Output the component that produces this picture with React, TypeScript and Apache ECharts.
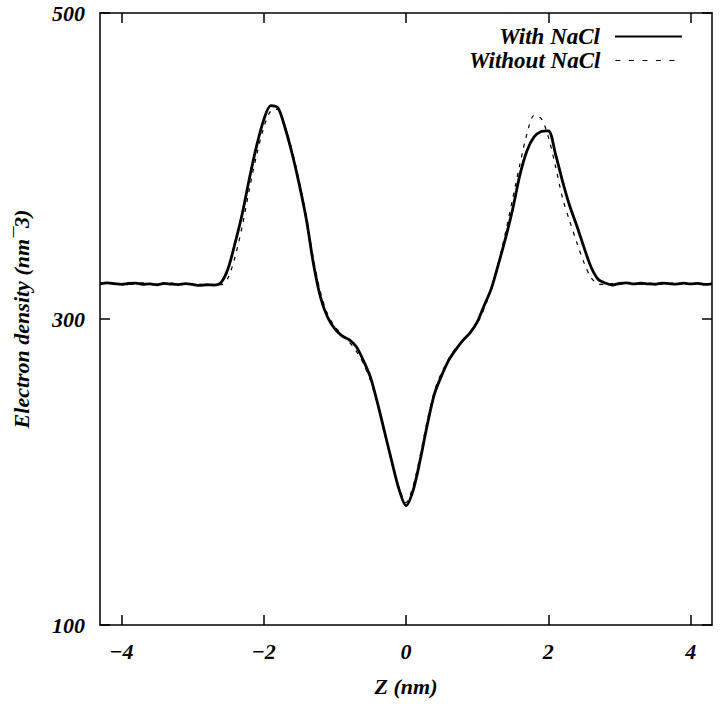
import React, { useEffect, useRef } from "react";
import * as echarts from "echarts";

const zValues = [
  -4.3, -4.2, -4.1, -4.0, -3.9, -3.8, -3.7, -3.6, -3.5, -3.4, -3.3, -3.2, -3.1, -3.0,
  -2.9, -2.8, -2.7, -2.6, -2.5, -2.4, -2.3, -2.2, -2.1, -2.0, -1.9, -1.8, -1.7, -1.6,
  -1.5, -1.4, -1.3, -1.2, -1.1, -1.0, -0.9, -0.8, -0.7, -0.6, -0.5, -0.4, -0.3, -0.2,
  -0.1, 0.0, 0.1, 0.2, 0.3, 0.4, 0.5, 0.6, 0.7, 0.8, 0.9, 1.0, 1.1, 1.2, 1.3, 1.4,
  1.5, 1.6, 1.7, 1.8, 1.9, 2.0, 2.1, 2.2, 2.3, 2.4, 2.5, 2.6, 2.7, 2.8, 2.9, 3.0,
  3.1, 3.2, 3.3, 3.4, 3.5, 3.6, 3.7, 3.8, 3.9, 4.0, 4.1, 4.2, 4.3,
];

const withNaCl = [
  323.0, 323.6, 323.1, 322.6, 323.2, 323.5, 322.7, 323.0, 322.4, 323.3, 322.8, 322.5, 323.1, 322.6,
  322.0, 322.4, 322.2, 323.8, 333, 350, 369, 392, 413, 430, 439.5, 438, 425, 408,
  388, 365, 336, 314, 301, 293.5, 289, 286.5, 282, 273, 262, 245, 226, 207,
  189, 178, 188, 208, 231, 251, 263, 273, 280, 286, 291, 298, 309, 320, 336, 353,
  372, 394, 410, 419, 422.5, 423, 408, 390, 374, 361, 347, 334, 326, 323.5, 322.2, 323.2,
  323.6, 322.9, 323.4, 323.0, 322.7, 323.5, 323.1, 322.8, 323.4, 322.9, 323.3, 322.6, 323.0,
];

const withoutNaCl = [
  323.4, 322.9, 323.5, 323.0, 322.6, 323.2, 323.6, 322.8, 323.1, 322.7, 323.4, 323.0, 322.5, 323.2,
  322.8, 322.3, 322.6, 322.4, 327, 341, 361, 385, 407, 425, 436, 437, 426, 410,
  390, 367, 339, 317, 303, 295, 290, 285, 279, 271, 260, 244, 225, 206,
  190, 180, 191, 211, 234, 253, 265, 274, 281, 286, 291, 297, 307, 320, 337, 357,
  379, 401, 421, 433, 431, 419, 400, 379, 364, 350, 337, 327, 323, 322.6, 323.1, 322.8,
  323.3, 323.0, 322.6, 323.4, 323.1, 322.7, 323.2, 323.5, 322.9, 323.1, 322.6, 323.3, 322.9,
];

const xTicks = [-4, -2, 0, 2, 4];
const yTicks = [100, 300, 500];
const seriesNames = ["With NaCl", "Without NaCl"];

const FONT = "'Liberation Serif', 'Times New Roman', 'DejaVu Serif', serif";
const textBase = {
  fontFamily: FONT,
  fontWeight: "bold" as const,
  fontStyle: "italic" as const,
  fontSize: 22,
  color: "#000",
};

export default function App() {
  const ref = useRef<HTMLDivElement>(null);

  useEffect(() => {
    if (!ref.current) return;
    const chart = echarts.init(ref.current, null, { renderer: "svg" });

    const pairs = (vals: number[]) => zValues.map((z, i) => [z, vals[i]]);
    const axisLineStyle = { show: true, onZero: false, lineStyle: { color: "#000", width: 1.5 } };
    const tickStyle = { show: true, inside: true, length: 10, lineStyle: { color: "#000", width: 1.5 } };

    const legendCommon = {
      right: 37,
      itemWidth: 67,
      itemHeight: 20,
      padding: 0,
      align: "right" as const,
      selectedMode: false,
      itemStyle: { color: "transparent", borderColor: "transparent", borderWidth: 0 },
      textStyle: { ...textBase, fontSize: 23, padding: [0, 10, 0, 0] },
    };

    chart.setOption({
      animation: false,
      backgroundColor: "#fff",
      grid: { left: 100, right: 8, top: 13, bottom: 79 },
      legend: [
        { ...legendCommon, data: [seriesNames[0]], top: 25 },
        { ...legendCommon, data: [seriesNames[1]], top: 49, lineStyle: { type: [5, 8.5], width: 1.2 } },
      ],
      xAxis: [
        {
          type: "value",
          min: -4.3,
          max: 4.3,
          position: "bottom",
          name: "Z (nm)",
          nameLocation: "middle",
          nameGap: 50,
          nameTextStyle: textBase,
          axisLine: axisLineStyle,
          axisTick: { ...tickStyle, customValues: xTicks },
          axisLabel: {
            ...textBase,
            margin: 15,
            customValues: xTicks,
            formatter: (v: number) => String(v).replace("-", "\u2212"),
          },
          splitLine: { show: false },
        },
        {
          type: "value",
          min: -4.3,
          max: 4.3,
          position: "top",
          axisLine: axisLineStyle,
          axisTick: { ...tickStyle, customValues: xTicks },
          axisLabel: { show: false },
          splitLine: { show: false },
        },
      ],
      yAxis: [
        {
          type: "value",
          min: 100,
          max: 500,
          interval: 200,
          position: "left",
          name: "Electron density (nm\u00AF3)",
          nameLocation: "middle",
          nameRotate: 90,
          nameGap: 68,
          nameTextStyle: textBase,
          axisLine: axisLineStyle,
          axisTick: { ...tickStyle, customValues: yTicks },
          axisLabel: { ...textBase, margin: 15, customValues: yTicks },
          splitLine: { show: false },
        },
        {
          type: "value",
          min: 100,
          max: 500,
          interval: 200,
          position: "right",
          axisLine: axisLineStyle,
          axisTick: { ...tickStyle, customValues: yTicks },
          axisLabel: { show: false },
          splitLine: { show: false },
        },
      ],
      series: [
        {
          name: seriesNames[0],
          type: "line",
          data: pairs(withNaCl),
          symbol: "none",
          smooth: 0.3,
          lineStyle: { color: "#000", width: 2.8 },
          itemStyle: { color: "#000" },
          z: 2,
        },
        {
          name: seriesNames[1],
          type: "line",
          data: pairs(withoutNaCl),
          symbol: "none",
          smooth: 0.3,
          lineStyle: { color: "#000", width: 1.2, type: [4, 6] },
          itemStyle: { color: "#000" },
          z: 3,
        },
      ],
    });

    return () => chart.dispose();
  }, []);

  return (
    <div
      ref={ref}
      style={{ position: "fixed", left: 0, top: 0, width: 720, height: 704, background: "#fff" }}
    />
  );
}
